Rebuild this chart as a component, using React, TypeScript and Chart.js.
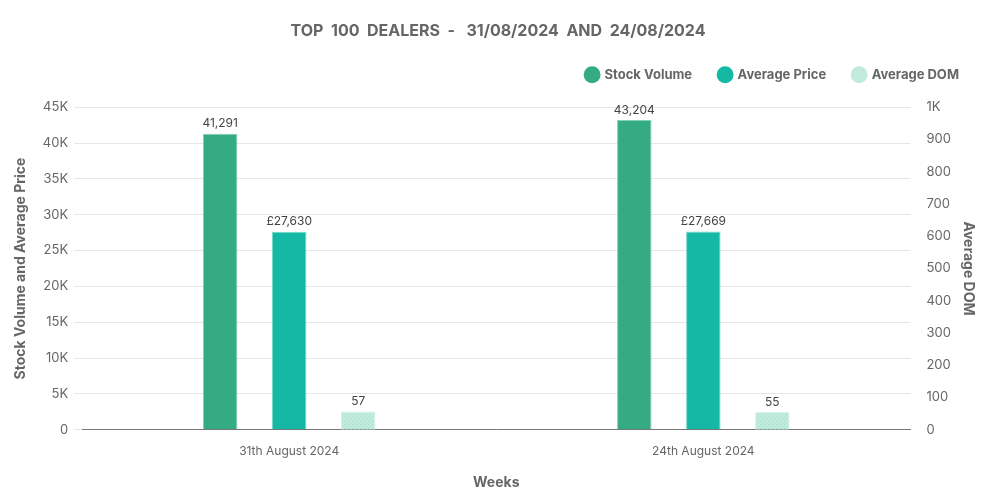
import React, { useEffect, useRef } from "react";
import { Chart, registerables } from "chart.js";

Chart.register(...registerables);

const categories = ["31th August 2024", "24th August 2024"];
const stockVolume = [41291, 43204];
const averagePrice = [27630, 27669];
const averageDom = [57, 55];
const seriesNames = ["Stock Volume", "Average Price", "Average DOM"];
const titleText = "TOP  100  DEALERS  -   31/08/2024  AND  24/08/2024";

function makeDotPattern(): CanvasPattern | string {
  const c = document.createElement("canvas");
  c.width = 4;
  c.height = 4;
  const ctx = c.getContext("2d");
  if (!ctx) return "#bfe9dc";
  ctx.fillStyle = "#c2ebde";
  ctx.fillRect(0, 0, 4, 4);
  ctx.fillStyle = "#a3ddca";
  ctx.fillRect(0, 0, 1, 1);
  ctx.fillRect(2, 2, 1, 1);
  const p = ctx.createPattern(c, "repeat");
  return p || "#bfe9dc";
}

const labelPlugin = {
  id: "barLabels",
  afterDatasetsDraw(chart: any) {
    const ctx = chart.ctx;
    ctx.save();
    ctx.font = "12px Inter";
    ctx.fillStyle = "#444";
    ctx.textAlign = "center";
    ctx.textBaseline = "bottom";
    chart.data.datasets.forEach((ds: any, i: number) => {
      const meta = chart.getDatasetMeta(i);
      meta.data.forEach((el: any, j: number) => {
        const v = ds.data[j] as number;
        let s = v.toLocaleString("en-GB");
        if (i === 1) s = "£" + s;
        ctx.fillText(s, el.x, el.y - 4);
      });
    });
    ctx.restore();
  },
};

const legendGapPlugin = {
  id: "legendGap",
  beforeInit(chart: any) {
    const legend = chart.legend;
    if (!legend) return;
    const orig = legend.fit;
    legend.fit = function () {
      orig.bind(legend)();
      this.height += 16;
    };
  },
  afterLayout(chart: any) {
    const legend = chart.legend;
    if (!legend) return;
    legend.left += 2;
    legend.right += 2;
  },
};

export default function App() {
  const ref = useRef<HTMLCanvasElement>(null);
  useEffect(() => {
    if (!ref.current) return;
    const chart = new Chart(ref.current, {
      type: "bar",
      data: {
        labels: categories,
        datasets: [
          {
            label: seriesNames[0],
            data: stockVolume,
            backgroundColor: "#35ab83",
            borderColor: "#7fd0b4",
            borderWidth: 1,
            yAxisID: "y",
            barPercentage: 0.5,
            categoryPercentage: 0.5,
          },
          {
            label: seriesNames[1],
            data: averagePrice,
            backgroundColor: "#14b8a4",
            borderColor: "#74d8cb",
            borderWidth: 1,
            yAxisID: "y",
            barPercentage: 0.5,
            categoryPercentage: 0.5,
          },
          {
            label: seriesNames[2],
            data: averageDom,
            backgroundColor: makeDotPattern() as any,
            borderColor: "#d5f2e9",
            borderWidth: 1,
            yAxisID: "y1",
            barPercentage: 0.5,
            categoryPercentage: 0.5,
          },
        ],
      },
      options: {
        animation: false,
        responsive: true,
        maintainAspectRatio: false,
        layout: { padding: { left: 12, right: 16, top: 10, bottom: 5 } },
        plugins: {
          title: {
            display: true,
            text: titleText,
            color: "#666",
            font: { family: "Inter", size: 16, weight: "bold" },
            padding: { top: 12, bottom: 0 },
          },
          legend: {
            position: "top",
            align: "end",
            labels: {
              usePointStyle: true,
              pointStyle: "circle",
              boxWidth: 12,
              boxHeight: 12,
              padding: 27,
              color: "#666",
              font: { family: "Inter", size: 13, weight: "bold" },
              generateLabels(chart: any) {
                const cols = ["#35ab83", "#14b8a4", "#c2ebde"];
                return chart.data.datasets.map((ds: any, i: number) => ({
                  text: ds.label,
                  fillStyle: cols[i],
                  strokeStyle: cols[i],
                  lineWidth: 0,
                  pointStyle: "circle",
                  datasetIndex: i,
                  fontColor: "#666",
                  hidden: false,
                }));
              },
            },
          },
          tooltip: { enabled: false },
        },
        scales: {
          x: {
            grid: { display: false },
            border: { display: true, color: "#777" },
            ticks: { color: "#666", font: { family: "Inter", size: 12 }, padding: 6 },
            title: {
              display: true,
              text: "Weeks",
              color: "#666",
              font: { family: "Inter", size: 14, weight: "bold" },
              padding: { top: 10 },
            },
          },
          y: {
            position: "left",
            min: 0,
            max: 45000,
            ticks: {
              stepSize: 5000,
              color: "#666",
              font: { family: "Inter", size: 13 },
              padding: 6,
              callback: (v: any) => (v === 0 ? "0" : v / 1000 + "K"),
            },
            grid: { color: "#e6e6e6", tickLength: 8 },
            border: { display: false },
            title: {
              display: true,
              text: "Stock Volume and Average Price",
              color: "#666",
              font: { family: "Inter", size: 14, weight: "bold" },
              padding: { top: 0, bottom: 8 },
            },
          },
          y1: {
            position: "right",
            min: 0,
            max: 1000,
            ticks: {
              stepSize: 100,
              color: "#666",
              font: { family: "Inter", size: 13 },
              padding: 8,
              callback: (v: any) => (v >= 1000 ? v / 1000 + "K" : String(v)),
            },
            grid: { display: false },
            border: { display: false },
            title: {
              display: true,
              text: "Average DOM",
              color: "#666",
              font: { family: "Inter", size: 14, weight: "bold" },
              padding: { top: 7, bottom: 1 },
            },
          },
        },
      },
      plugins: [legendGapPlugin, labelPlugin],
    });
    return () => chart.destroy();
  }, []);
  return (
    <div style={{ position: "fixed", left: 0, top: 0, width: 1000, height: 500, background: "#fff" }}>
      <canvas ref={ref} />
    </div>
  );
}
